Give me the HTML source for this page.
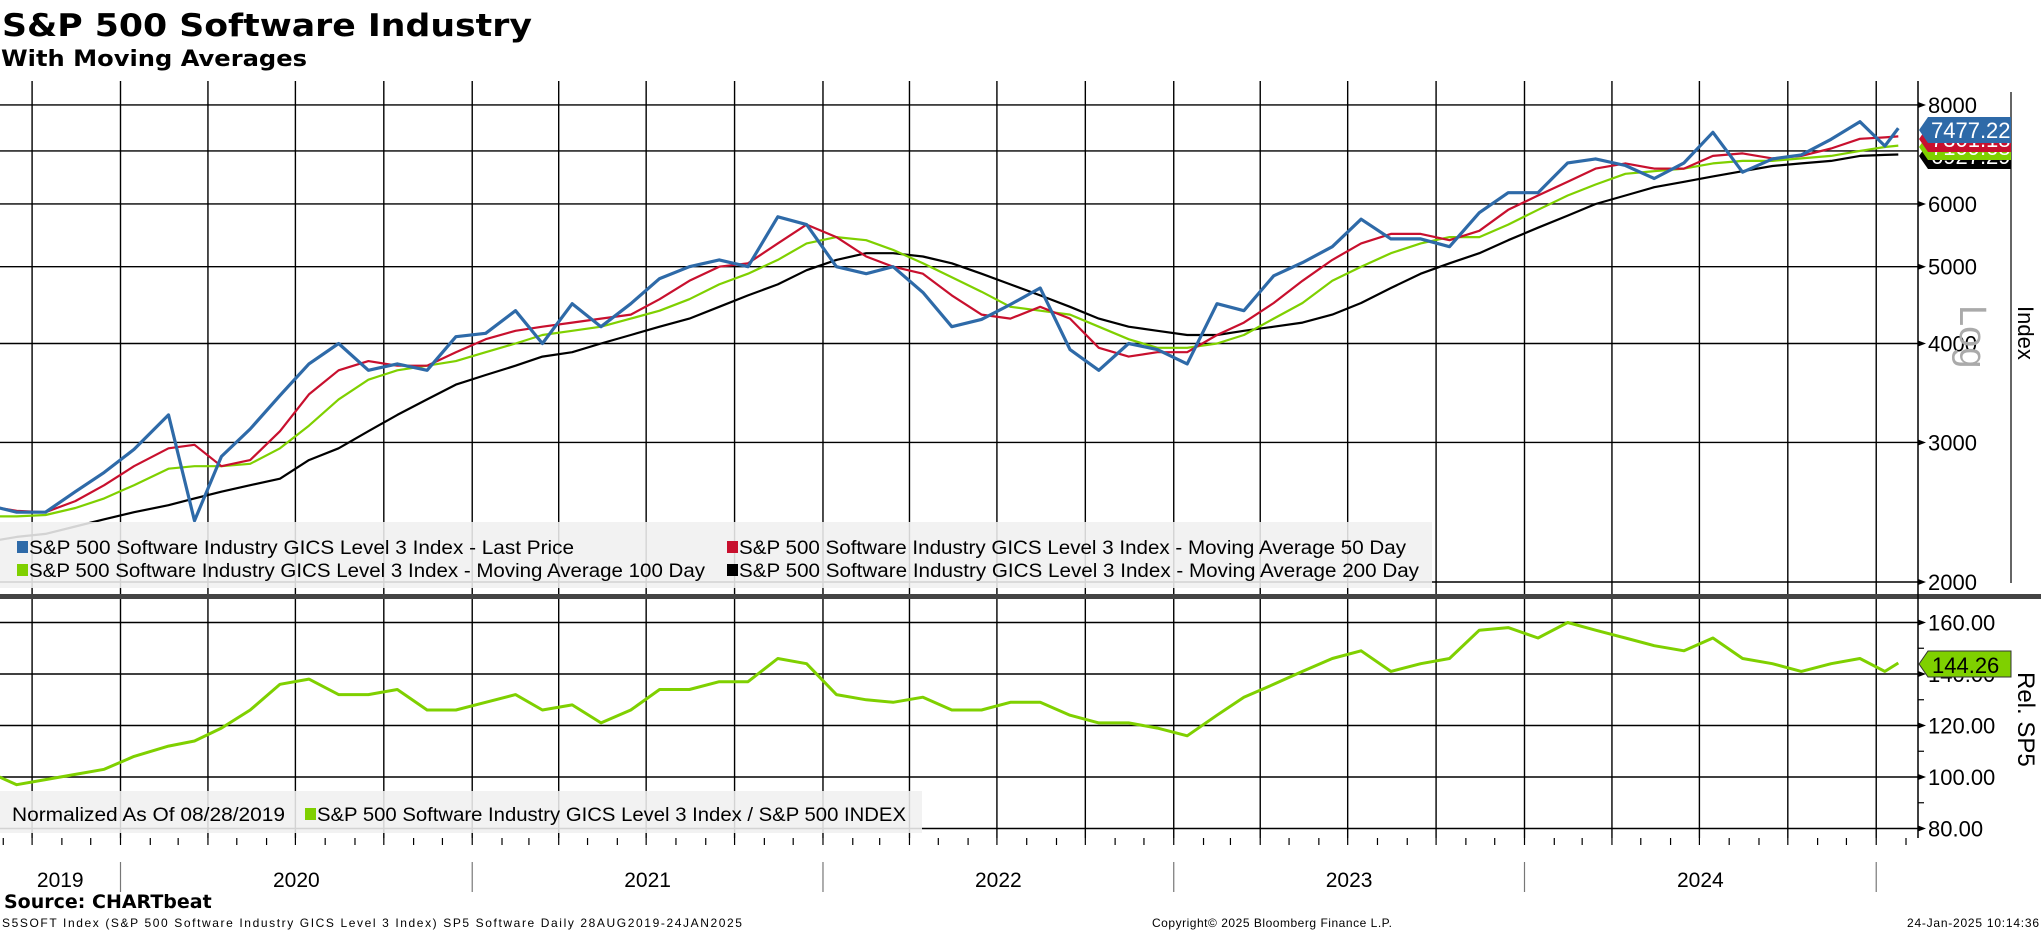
<!DOCTYPE html>
<html><head><meta charset="utf-8">
<style>
html,body{margin:0;padding:0;background:#fff;}
svg{display:block;font-family:"Liberation Sans","DejaVu Sans",sans-serif;}
</style></head>
<body>
<svg id="chart" width="2041" height="932" viewBox="0 0 2041 932" xmlns="http://www.w3.org/2000/svg">
<text x="2" y="36" font-family="DejaVu Sans" font-weight="bold" font-size="31" textLength="530" lengthAdjust="spacingAndGlyphs">S&amp;P 500 Software Industry</text>
<text x="1" y="66" font-family="DejaVu Sans" font-weight="bold" font-size="22" textLength="306" lengthAdjust="spacingAndGlyphs">With Moving Averages</text>
<g id="grid"></g>
<g id="series"></g>
<g id="axes"></g>
<g id="legends"></g>
<text x="4" y="908" font-family="DejaVu Sans" font-weight="bold" font-size="19">Source: CHARTbeat</text>
<text x="2" y="927" font-size="12" textLength="740">S5SOFT Index (S&amp;P 500 Software Industry GICS Level 3 Index) SP5 Software  Daily 28AUG2019-24JAN2025</text>
<text x="1152" y="927" font-size="12" textLength="240">Copyright© 2025 Bloomberg Finance L.P.</text>
<text x="1907" y="927" font-size="12" textLength="132">24-Jan-2025 10:14:36</text>
</svg>
<script>
const dates = ["2019-08-28","2019-09-15","2019-10-15","2019-11-15","2019-12-15",
"2020-01-15","2020-02-20","2020-03-18","2020-04-15","2020-05-15","2020-06-15","2020-07-15","2020-08-15","2020-09-15","2020-10-15","2020-11-15","2020-12-15",
"2021-01-15","2021-02-15","2021-03-15","2021-04-15","2021-05-15","2021-06-15","2021-07-15","2021-08-15","2021-09-15","2021-10-15","2021-11-15","2021-12-15",
"2022-01-15","2022-02-15","2022-03-15","2022-04-15","2022-05-15","2022-06-15","2022-07-15","2022-08-15","2022-09-15","2022-10-15","2022-11-15","2022-12-15",
"2023-01-15","2023-02-15","2023-03-15","2023-04-15","2023-05-15","2023-06-15","2023-07-15","2023-08-15","2023-09-15","2023-10-15","2023-11-15","2023-12-15",
"2024-01-15","2024-02-15","2024-03-15","2024-04-15","2024-05-15","2024-06-15","2024-07-15","2024-08-15","2024-09-15","2024-10-15","2024-11-15","2024-12-15",
"2025-01-10","2025-01-24"];
const lastPrice = [2480,2450,2450,2600,2750,
2940,3250,2390,2880,3120,3440,3770,4000,3700,3770,3700,4080,
4120,4400,4000,4490,4200,4490,4830,5000,5100,5000,5780,5650,
5000,4900,5000,4640,4200,4290,4480,4700,3930,3700,4000,3930,
3770,4490,4400,4870,5060,5300,5740,5420,5420,5300,5850,6200,
6200,6760,6840,6710,6460,6760,7390,6580,6840,6920,7240,7620,
7100,7477.22];
const ma50 = [2480,2460,2450,2530,2650,
2800,2950,2980,2800,2850,3100,3450,3700,3800,3750,3750,3900,
4050,4150,4200,4250,4300,4350,4550,4800,5000,5050,5350,5650,
5450,5150,5000,4900,4600,4350,4300,4450,4300,3950,3850,3900,
3900,4100,4250,4500,4800,5100,5350,5500,5500,5400,5550,5900,
6150,6400,6650,6750,6650,6650,6900,6950,6850,6900,7050,7250,
7280,7301];
const ma100 = [2420,2420,2430,2480,2550,
2650,2780,2800,2800,2820,2950,3150,3400,3600,3700,3750,3800,
3900,4000,4100,4150,4200,4300,4400,4550,4750,4900,5100,5350,
5450,5400,5250,5050,4850,4650,4450,4400,4350,4200,4050,3950,
3950,4000,4100,4300,4500,4800,5000,5200,5350,5450,5450,5650,
5900,6150,6350,6550,6600,6650,6750,6800,6800,6850,6900,7000,
7080,7109];
const ma200 = [2260,2280,2300,2350,2400,
2450,2500,2550,2600,2650,2700,2850,2950,3100,3250,3400,3550,
3650,3750,3850,3900,4000,4100,4200,4300,4450,4600,4750,4950,
5100,5200,5200,5150,5050,4900,4750,4600,4450,4300,4200,4150,
4100,4100,4150,4200,4250,4350,4500,4700,4900,5050,5200,5400,
5600,5800,6000,6150,6300,6400,6500,6600,6700,6750,6800,6900,
6920,6927];
const relSP5 = [100,97,99,101,103,
108,112,114,119,126,136,138,132,132,134,126,126,
129,132,126,128,121,126,134,134,137,137,146,144,
132,130,129,131,126,126,129,129,124,121,121,119,
116,124,131,136,141,146,149,141,144,146,157,158,
154,160,157,154,151,149,154,146,144,141,144,146,
141,144.26];
const priceTicks = [2000,3000,4000,5000,6000,8000];
const priceGridOnly = [7000];
const relTicks = [80,100,120,140,160];
const years = ["2019","2020","2021","2022","2023","2024"];
const endLabels = ["7477.22","7301.18","7109.68","6927.29"];

const NS="http://www.w3.org/2000/svg";
const X0=120.5, PXY=351, T0=Date.UTC(2020,0,1);
function xOf(d){const p=d.split("-").map(Number);return X0+(Date.UTC(p[0],p[1]-1,p[2])-T0)/86400000*PXY/365.25;}
function yP(v){return 582-344.1*Math.log(v/2000);}
function yR(v){return 777-(v-100)*51.5/20;}
function mk(tag,attrs,parent){const e=document.createElementNS(NS,tag);for(const k in attrs)e.setAttribute(k,attrs[k]);parent.appendChild(e);return e;}
const grid=document.getElementById("grid"),ser=document.getElementById("series"),axes=document.getElementById("axes"),leg=document.getElementById("legends");
const R=1918;

for(let y=2019;y<=2025;y++){for(let m=0;m<12;m+=3){
  const ds=y+"-"+String(m+1).padStart(2,"0")+"-01";const x=xOf(ds);
  if(x<0||x>R)continue;
  const l=mk("line",{x1:x,x2:x,y1:81,y2:838,stroke:"#000","stroke-width":1.4},grid);
  
  
}}
priceTicks.concat(priceGridOnly).forEach(v=>{
  const l=mk("line",{x1:0,x2:R,y1:yP(v),y2:yP(v),stroke:"#000","stroke-width":1.4},grid);
  
  
});
relTicks.forEach(v=>{
  const l=mk("line",{x1:0,x2:R,y1:yR(v),y2:yR(v),stroke:"#000","stroke-width":1.4},grid);
  
  
});

function line(vals,yf,color,w,name){
  const pts=vals.map((v,i)=>xOf(dates[i]).toFixed(1)+","+yf(v).toFixed(1)).join(" ");
  const p=mk("polyline",{points:pts,fill:"none",stroke:color,"stroke-width":w,"stroke-linejoin":"round"},ser);
  
  
}
line(ma200,yP,"#000",2.2,"ma200-line");
line(ma100,yP,"#7fd000",2.2,"ma100-line");
line(ma50,yP,"#c8102e",2.2,"ma50-line");
line(lastPrice,yP,"#2e6aa8",3.2,"last-price-line");
line(relSP5,yR,"#7fd000",3,"relative-sp5-line");

let e=mk("rect",{x:0,y:594,width:2041,height:5,fill:"#444"},axes);


e=mk("line",{x1:R,x2:R,y1:81,y2:838,stroke:"#000","stroke-width":1.5},axes);


e=mk("line",{x1:2011,x2:2011,y1:92,y2:583,stroke:"#000","stroke-width":1.2},axes);



function tickLabel(y,txt,name){
  const a=mk("polygon",{points:`${R},${y-3} ${R+8},${y} ${R},${y+3}`,fill:"#000"},axes);
  
  
  const t=mk("text",{x:R+10,y:y+8,"font-size":22},axes);t.textContent=txt;
  
  
}
priceTicks.forEach(v=>tickLabel(yP(v),String(v),"price-tick-label"));
relTicks.forEach(v=>tickLabel(yR(v),v.toFixed(2),"rel-tick-label"));
[90,110,130,150].forEach(v=>{
  const t=mk("line",{x1:R,x2:R+6,y1:yR(v),y2:yR(v),stroke:"#000","stroke-width":1.2},axes);
  
  
});
for(let y=2019;y<=2025;y++){for(let m=0;m<12;m++){
  const x=xOf(y+"-"+String(m+1).padStart(2,"0")+"-01");if(x<0||x>R)continue;
  const t=mk("line",{x1:x,x2:x,y1:838,y2:845,stroke:"#000","stroke-width":1.2},axes);
  
  
}}
years.forEach((yr,i)=>{
  const a=Math.max(0,xOf(yr+"-01-01")),b=xOf((+yr+1)+"-01-01");
  const t=mk("text",{x:(a+b)/2,y:887,"font-size":21,"text-anchor":"middle"},axes);t.textContent=yr;
  
  
  const s=mk("line",{x1:b,x2:b,y1:862,y2:892,stroke:"#777","stroke-width":1.2},axes);
  
  
});

e=mk("text",{x:0,y:0,"font-size":38,fill:"#aaa",transform:"translate(1960,305) rotate(90)"},axes);e.textContent="Log";


e=mk("text",{x:0,y:0,"font-size":22,transform:"translate(2018,306) rotate(90)"},axes);e.textContent="Index";


e=mk("text",{x:0,y:0,"font-size":24,transform:"translate(2018,672) rotate(90)"},axes);e.textContent="Rel. SP5";



const endColors=["#2e6aa8","#c8102e","#7fd000","#000"];
const endTop=[117,126,134,143];
for(let i=3;i>=0;i--){
  const t=endTop[i];
  const g=mk("polygon",{points:`1919,${t+13} 1928,${t} 2011,${t} 2011,${t+26} 1928,${t+26}`,fill:endColors[i]},axes);
  
  
  const tx=mk("text",{x:1931,y:t+21,"font-size":22,fill:"#fff"},axes);tx.textContent=endLabels[i];
  
  
}
e=mk("polygon",{points:"1919,664 1928,651 2011,651 2011,677 1928,677",fill:"#7fd000",stroke:"#333","stroke-width":1},axes);


e=mk("text",{x:1932,y:673,"font-size":22,fill:"#000"},axes);e.textContent=relSP5[relSP5.length-1].toFixed(2);



e=mk("rect",{x:0,y:522,width:1432,height:66,fill:"rgba(240,240,240,0.88)"},leg);


function entry(x,y,color,txt,w,name){
  const s=mk("rect",{x:x,y:y-6,width:11,height:12,fill:color},leg);
  
  
  const t=mk("text",{x:x+12,y:y+7,"font-size":19,textLength:w,lengthAdjust:"spacingAndGlyphs"},leg);t.textContent=txt;
  
  
}
entry(17,547,"#2e6aa8","S&P 500 Software Industry GICS Level 3 Index - Last Price",545,"legend-last-price");
entry(17,570,"#7fd000","S&P 500 Software Industry GICS Level 3 Index - Moving Average 100 Day",676,"legend-ma100");
entry(727,547,"#c8102e","S&P 500 Software Industry GICS Level 3 Index - Moving Average 50 Day",667,"legend-ma50");
entry(727,570,"#000","S&P 500 Software Industry GICS Level 3 Index - Moving Average 200 Day",680,"legend-ma200");
e=mk("rect",{x:0,y:791,width:922,height:42,fill:"rgba(240,240,240,0.88)"},leg);


e=mk("text",{x:12,y:821,"font-size":19,textLength:273,lengthAdjust:"spacingAndGlyphs"},leg);e.textContent="Normalized As Of 08/28/2019";


entry(305,814,"#7fd000","S&P 500 Software Industry GICS Level 3 Index / S&P 500 INDEX",589,"legend-relative");
</script>
</body></html>
